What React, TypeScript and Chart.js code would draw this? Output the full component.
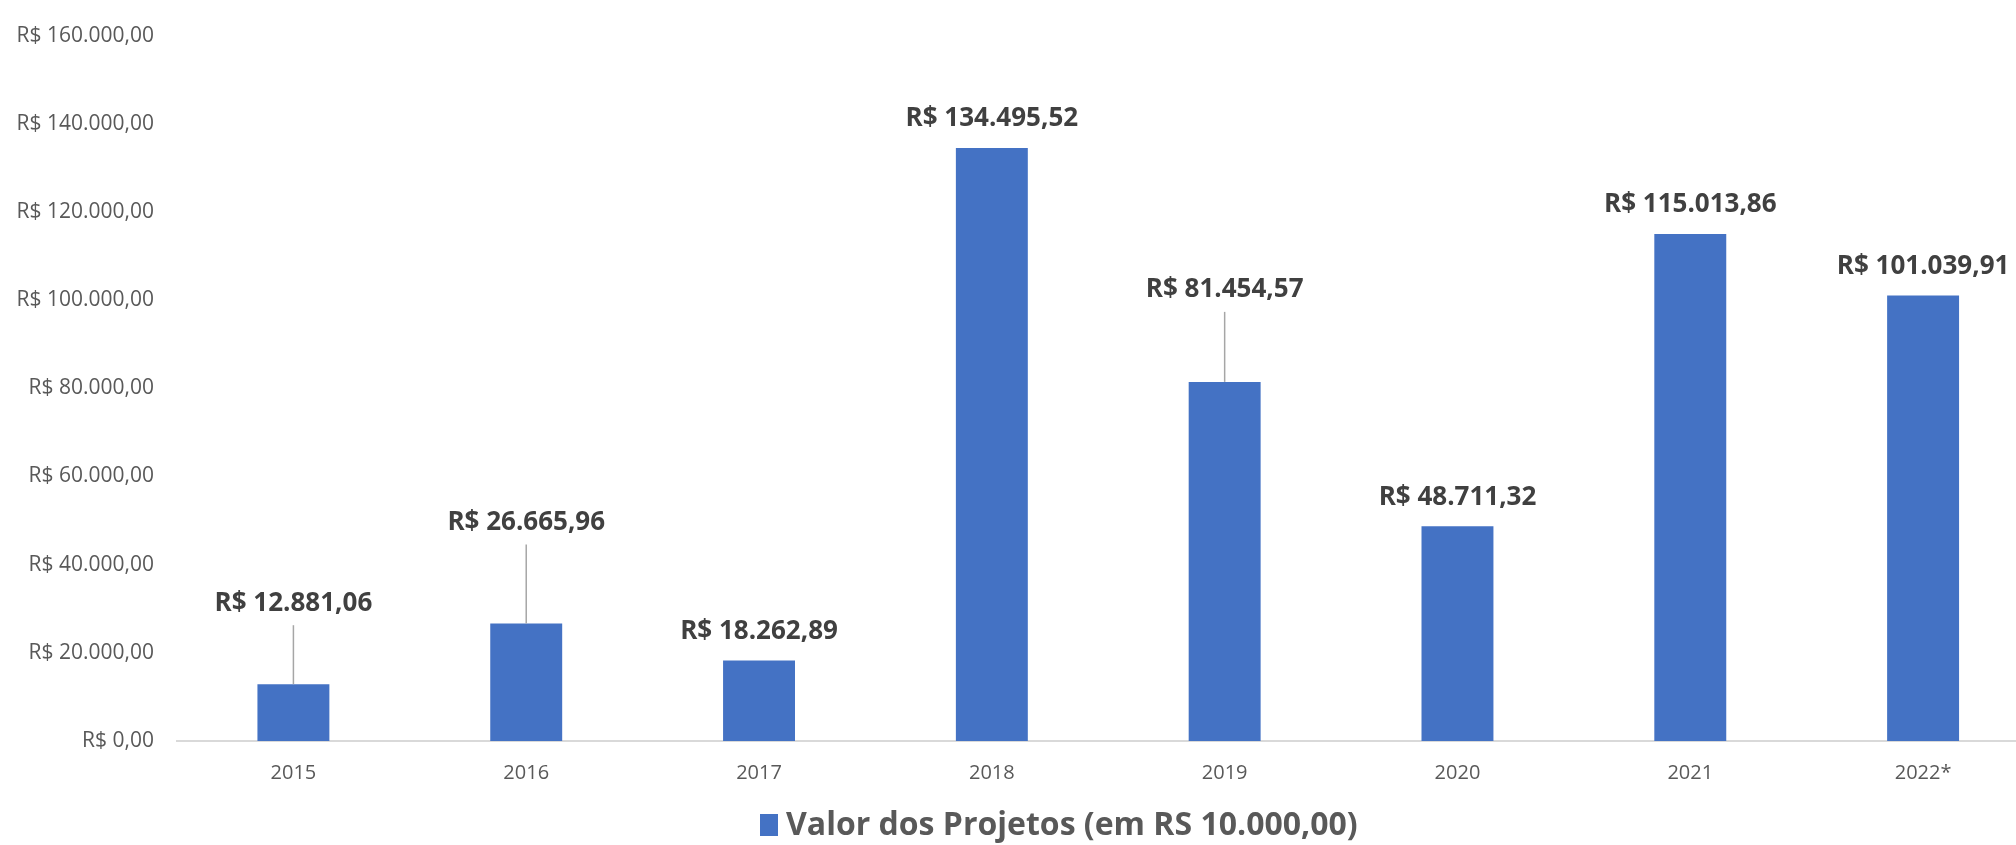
import React, { useEffect, useRef } from "react";
import { Chart, registerables } from "chart.js";

Chart.register(...registerables);

const categories = ["2015", "2016", "2017", "2018", "2019", "2020", "2021", "2022*"];
const projectValues = [12881.06, 26665.96, 18262.89, 134495.52, 81454.57, 48711.32, 115013.86, 101039.91];
const seriesName = "Valor dos Projetos (em RS 10.000,00)";
const yMin = 0;
const yMax = 160000;
const yStep = 20000;

const BAR_COLOR = "#4472C4";
const FONT = "'Open Sans', 'Liberation Sans', sans-serif";

function formatBRL(v: number): string {
  const fixed = Math.abs(v).toFixed(2);
  const [intPart, dec] = fixed.split(".");
  const withDots = intPart.replace(/\B(?=(\d{3})+(?!\d))/g, ".");
  return "R$ " + (v < 0 ? "-" : "") + withDots + "," + dec;
}

const labelPlugin = {
  id: "barLabels",
  afterDatasetsDraw(chart: any, _args: any, opts: any) {
    const ctx = chart.ctx;
    const meta = chart.getDatasetMeta(0);
    const raises: number[] = opts.raises || [];
    ctx.save();
    ctx.font = `bold 26px ${FONT}`;
    ctx.fillStyle = "#404040";
    ctx.textAlign = "center";
    ctx.textBaseline = "middle";
    meta.data.forEach((bar: any, i: number) => {
      const v = chart.data.datasets[0].data[i];
      const raise = raises[i] ?? 29;
      const cy = bar.y - raise;
      ctx.fillText(formatBRL(v), bar.x, cy);
      if (raise > 45) {
        ctx.save();
        ctx.strokeStyle = "#A6A6A6";
        ctx.lineWidth = 1.5;
        ctx.beginPath();
        ctx.moveTo(bar.x, cy + 22);
        ctx.lineTo(bar.x, bar.y);
        ctx.stroke();
        ctx.restore();
      }
    });
    ctx.restore();
  },
};

const legendPlugin = {
  id: "customLegend",
  afterDraw(chart: any, _args: any, opts: any) {
    const ctx = chart.ctx;
    ctx.save();
    const x = opts.x;
    const y = opts.y;
    ctx.fillStyle = BAR_COLOR;
    ctx.fillRect(x, y - 11, 18, 22);
    ctx.font = `bold 32px ${FONT}`;
    ctx.fillStyle = "#595959";
    ctx.textAlign = "left";
    ctx.textBaseline = "middle";
    ctx.fillText(opts.text, x + 26, y + 1);
    ctx.restore();
  },
};

const whiteBg = {
  id: "whiteBg",
  beforeDraw(chart: any) {
    const ctx = chart.ctx;
    ctx.save();
    ctx.fillStyle = "#ffffff";
    ctx.fillRect(0, 0, chart.width, chart.height);
    ctx.restore();
  },
};

export default function App() {
  const canvasRef = useRef<HTMLCanvasElement | null>(null);

  useEffect(() => {
    const canvas = canvasRef.current;
    if (!canvas) return;
    const chart = new Chart(canvas, {
      type: "bar",
      data: {
        labels: categories,
        datasets: [
          {
            label: seriesName,
            data: projectValues,
            backgroundColor: BAR_COLOR,
            borderWidth: 0,
            barPercentage: 0.309,
            categoryPercentage: 1,
          },
        ],
      },
      options: {
        responsive: false,
        animation: false,
        devicePixelRatio: 1,
        layout: { padding: { top: 8.5, right: 20.5, bottom: 0, left: 0 } },
        plugins: {
          legend: { display: false },
          tooltip: { enabled: false },
          barLabels: { raises: [81, 101, 29, 29, 92, 29, 29, 29] },
          customLegend: { x: 760, y: 825, text: seriesName },
        } as any,
        scales: {
          x: {
            grid: { display: false, drawTicks: false },
            border: { display: true, color: "#D9D9D9", width: 2 },
            ticks: {
              font: { family: FONT, size: 20 },
              color: "#595959",
              padding: 20,
              maxRotation: 0,
              autoSkip: false,
            },
            afterFit(scale: any) {
              scale.height = 104;
            },
          },
          y: {
            min: yMin,
            max: yMax,
            grid: { display: false, drawTicks: false },
            border: { display: false },
            ticks: {
              stepSize: yStep,
              font: { family: FONT, size: 21 },
              color: "#595959",
              padding: 23,
              callback: (v: any) => formatBRL(Number(v)),
            },
            afterFit(scale: any) {
              scale.width = 177;
            },
          },
        },
      },
      plugins: [whiteBg, labelPlugin, legendPlugin],
    });
    return () => chart.destroy();
  }, []);

  return (
    <div
      style={{
        position: "fixed",
        left: 0,
        top: 0,
        width: "100vw",
        height: "100vh",
        overflow: "hidden",
        background: "#fff",
      }}
    >
      <canvas ref={canvasRef} width={2060} height={845} style={{ display: "block" }} />
    </div>
  );
}
